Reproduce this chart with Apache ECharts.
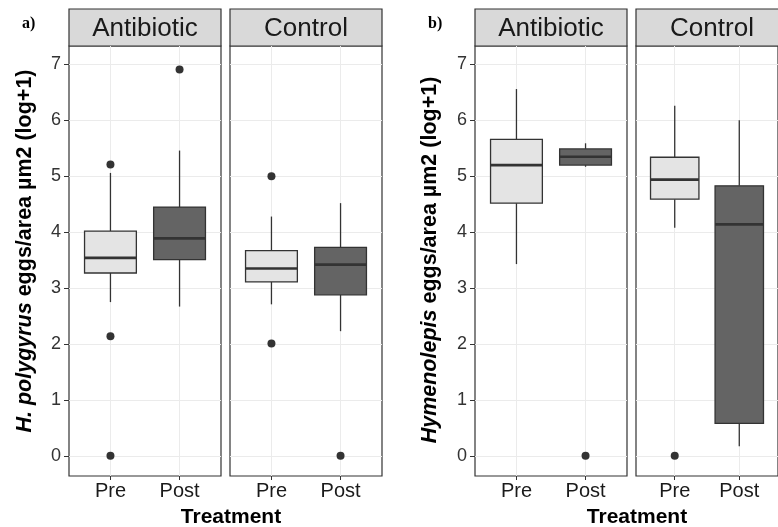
<!DOCTYPE html>
<html><head><meta charset="utf-8">
<script src="https://cdn.jsdelivr.net/npm/echarts@6/dist/echarts.min.js"></script>
<style>html,body{margin:0;padding:0;background:#fff}#c{width:778px;height:527px}</style>
</head><body><div id="c"></div>
<script>
// ---------- data ----------
const groups = ['Pre', 'Post'];
const facets = ['Antibiotic', 'Control'];
const yTicks = [0, 1, 2, 3, 4, 5, 6, 7];
// [lower whisker, Q1, median, Q3, upper whisker] for Pre and Post
const hpAntibiotic = [[2.75, 3.27, 3.54, 4.02, 5.06], [2.67, 3.51, 3.89, 4.45, 5.46]];
const hpControl = [[2.71, 3.11, 3.35, 3.67, 4.28], [2.23, 2.88, 3.42, 3.73, 4.52]];
const hymAntibiotic = [[3.43, 4.52, 5.20, 5.66, 6.56], [5.17, 5.20, 5.35, 5.49, 5.59]];
const hymControl = [[4.08, 4.59, 4.94, 5.34, 6.26], [0.17, 0.58, 4.14, 4.83, 6.00]];
// outliers: [group (1 = Pre, 2 = Post), value]
const hpAntibioticOut = [[1, 5.21], [1, 2.14], [1, 0], [2, 6.91]];
const hpControlOut = [[1, 5.00], [1, 2.01], [2, 0]];
const hymAntibioticOut = [[2, 0]];
const hymControlOut = [[1, 0]];

// ---------- layout / style ----------
const FONT = 'Liberation Sans';
const PANEL_LEFT = [69, 230, 475, 636];
const PANEL_W = 152, PANEL_TOP = 46, PANEL_H = 430;
const STRIP_TOP = 9, STRIP_H = 37;
const FILLS = ['#e4e4e4', '#646464'];
const LINE = '#333333';

const boxSets = [hpAntibiotic, hpControl, hymAntibiotic, hymControl];
const outSets = [hpAntibioticOut, hpControlOut, hymAntibioticOut, hymControlOut];
const yTitles = ['{i|H. polygyrus} eggs/area µm2 (log+1)', '{i|Hymenolepis} eggs/area µm2 (log+1)'];
const yTitlePos = [[25, 251], [430, 260]];

function renderBox(params, api) {
  const g = api.value(0);
  const lo = api.coord([g, api.value(1)]);
  const q1 = api.coord([g, api.value(2)]);
  const md = api.coord([g, api.value(3)]);
  const q3 = api.coord([g, api.value(4)]);
  const hi = api.coord([g, api.value(5)]);
  const hw = api.size([0.75, 0])[0] / 2;
  const cx = md[0];
  return {
    type: 'group',
    children: [
      { type: 'line', shape: { x1: cx, y1: lo[1], x2: cx, y2: q1[1] }, style: { stroke: LINE, lineWidth: 1.3 } },
      { type: 'line', shape: { x1: cx, y1: q3[1], x2: cx, y2: hi[1] }, style: { stroke: LINE, lineWidth: 1.3 } },
      { type: 'rect', shape: { x: cx - hw, y: q3[1], width: 2 * hw, height: q1[1] - q3[1] },
        style: { fill: FILLS[g - 1], stroke: LINE, lineWidth: 1.3 } },
      { type: 'line', shape: { x1: cx - hw, y1: md[1], x2: cx + hw, y2: md[1] }, style: { stroke: LINE, lineWidth: 2.6 } }
    ]
  };
}

const grid = [], xAxis = [], yAxis = [], series = [], graphic = [];
PANEL_LEFT.forEach((L, i) => {
  const first = i % 2 === 0;
  grid.push({ left: L, top: PANEL_TOP, width: PANEL_W, height: PANEL_H, show: true,
    borderColor: LINE, borderWidth: 1.2, backgroundColor: 'transparent' });
  xAxis.push({
    gridIndex: i, type: 'value', min: 0.4, max: 2.6, position: 'bottom',
    axisLine: { show: false, onZero: false },
    axisTick: { show: true, customValues: [1, 2], length: 4, lineStyle: { color: LINE } },
    axisLabel: { show: true, customValues: [1, 2], formatter: v => groups[Math.round(v) - 1],
      fontFamily: FONT, fontSize: 20, color: '#1a1a1a', margin: 5 },
    splitLine: { show: true, lineStyle: { color: '#ebebeb', width: 1 } }
  });
  yAxis.push({
    gridIndex: i, type: 'value', min: -0.36, max: 7.33, position: 'left',
    axisLine: { show: false, onZero: false },
    axisTick: { show: first, customValues: yTicks, length: 5, lineStyle: { color: LINE } },
    axisLabel: { show: first, customValues: yTicks, fontFamily: FONT, fontSize: 18, color: '#333', margin: 8 },
    splitLine: { show: true, lineStyle: { color: '#ebebeb', width: 1 } }
  });
  series.push({
    type: 'custom', xAxisIndex: i, yAxisIndex: i, renderItem: renderBox,
    encode: { x: 0, y: [1, 2, 3, 4, 5] },
    data: boxSets[i].map((b, k) => [k + 1, ...b]), z: 2
  });
  series.push({
    type: 'scatter', xAxisIndex: i, yAxisIndex: i, data: outSets[i],
    symbolSize: 8, itemStyle: { color: '#333', opacity: 1 }, z: 3
  });
  graphic.push({ type: 'rect', shape: { x: L, y: STRIP_TOP, width: PANEL_W, height: STRIP_H },
    style: { fill: '#d9d9d9', stroke: LINE, lineWidth: 1.2 } });
  graphic.push({ type: 'text', x: L + PANEL_W / 2, y: STRIP_TOP + STRIP_H / 2 + 1,
    style: { text: facets[i % 2], fontFamily: FONT, fontSize: 26, fill: '#1a1a1a', align: 'center', verticalAlign: 'middle' } });
});
yTitles.forEach((t, k) => {
  graphic.push({ type: 'text', x: yTitlePos[k][0], y: yTitlePos[k][1], rotation: Math.PI / 2,
    style: { text: t, fontFamily: FONT, fontSize: 21.5, fontWeight: 'bold', fill: '#000',
      align: 'center', verticalAlign: 'middle',
      rich: { i: { fontFamily: FONT, fontSize: 21.5, fontWeight: 'bold', fontStyle: 'italic', fill: '#000' } } } });
});

const option = {
  animation: false,
  backgroundColor: '#fff',
  title: [
    { text: 'a)', left: 17, top: 11, textStyle: { fontFamily: 'Liberation Serif', fontWeight: 'bold', fontSize: 16, color: '#000' } },
    { text: 'b)', left: 423, top: 11, textStyle: { fontFamily: 'Liberation Serif', fontWeight: 'bold', fontSize: 16, color: '#000' } },
    { text: 'Treatment', left: 226, top: 502, textAlign: 'center', textStyle: { fontFamily: FONT, fontWeight: 'bold', fontSize: 21, color: '#000' } },
    { text: 'Treatment', left: 632, top: 502, textAlign: 'center', textStyle: { fontFamily: FONT, fontWeight: 'bold', fontSize: 21, color: '#000' } }
  ],
  grid, xAxis, yAxis, series, graphic
};
const chart = echarts.init(document.getElementById('c'));
chart.setOption(option);
</script></body></html>
